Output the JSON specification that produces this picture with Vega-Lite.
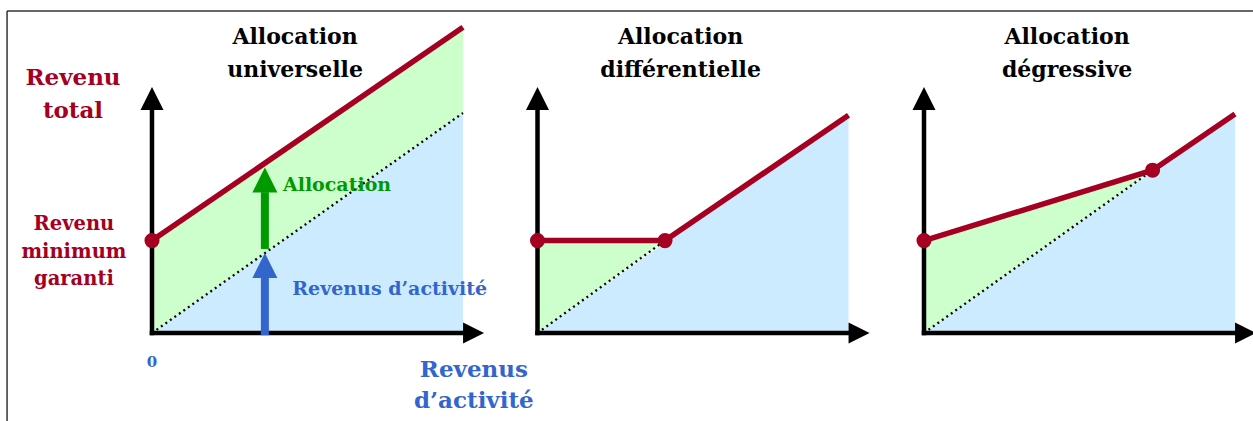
{
  "$schema": "https://vega.github.io/schema/vega-lite/v6.json",
  "width": 1253,
  "height": 421,
  "autosize": {"type": "none"},
  "padding": 0,
  "background": "white",
  "config": {"view": {"stroke": null}, "axis": {"disable": true}, "legend": {"disable": true}},
  "datasets": {
    "frame": [
      {"x": -4.66, "y": 14.64, "x2": 35.4, "y2": 14.64},
      {"x": -4.66, "y": 14.64, "x2": -4.66, "y2": -4}
    ],
    "axes": [
      {"x": 0, "y": 0, "x2": 0, "y2": 10.14},
      {"x": 0, "y": 0, "x2": 10.02, "y2": 0}
    ],
    "axis_up": [{"x": 0, "y": 10.66}],
    "axis_right": [{"x": 10.34, "y": 0}],
    "p1_blue": [{"x": 0, "top": 0, "bottom": 0}, {"x": 10, "top": 10, "bottom": 0}],
    "p1_green": [{"x": 0, "top": 4.2, "bottom": 0}, {"x": 10, "top": 13.9, "bottom": 10}],
    "p1_dots": [{"x": 0, "y": 0}, {"x": 10, "y": 10}],
    "p1_total": [{"x": 0, "y": 4.2}, {"x": 10, "y": 13.9}],
    "p1_points": [{"x": 0, "y": 4.2}],
    "p1_shafts": [
      {"kind": "allocation", "x": 3.63, "y": 3.82, "y2": 6.4},
      {"kind": "activite", "x": 3.63, "y": -0.1, "y2": 2.55}
    ],
    "p1_heads": [
      {"kind": "allocation", "x": 3.63, "y": 6.95},
      {"kind": "activite", "x": 3.63, "y": 3.07}
    ],
    "p1_text_big": [
      {"text": "Revenu", "x": -2.54, "y": 11.27, "kind": "total"},
      {"text": "total", "x": -2.54, "y": 9.79, "kind": "total"},
      {"text": "Revenus", "x": 10.35, "y": -2.0, "kind": "activite"},
      {"text": "d’activité", "x": 10.35, "y": -3.41, "kind": "activite"}
    ],
    "p1_text_mid": [
      {"text": "Revenu", "x": -2.51, "y": 4.68, "kind": "total"},
      {"text": "minimum", "x": -2.51, "y": 3.42, "kind": "total"},
      {"text": "garanti", "x": -2.51, "y": 2.18, "kind": "total"}
    ],
    "p1_text_left": [
      {"text": "Allocation", "x": 4.21, "y": 6.47, "kind": "allocation"},
      {"text": "Revenus d’activité", "x": 4.51, "y": 1.73, "kind": "activite"}
    ],
    "p1_zero": [{"text": "0", "x": 0, "y": -1.56, "kind": "activite"}],
    "p1_title": [
      {"text": "Allocation", "x": 4.6, "y": 13.14},
      {"text": "universelle", "x": 4.6, "y": 11.64}
    ],
    "p2_blue": [{"x": 0, "top": 0, "bottom": 0}, {"x": 10, "top": 10, "bottom": 0}],
    "p2_green": [{"x": 0, "top": 4.2, "bottom": 0}, {"x": 4.1, "top": 4.2, "bottom": 4.2}],
    "p2_dots": [{"x": 0, "y": 0}, {"x": 4.1, "y": 4.2}],
    "p2_total": [{"x": 0, "y": 4.2}, {"x": 4.1, "y": 4.2}, {"x": 10, "y": 9.9}],
    "p2_points": [{"x": 0, "y": 4.2}, {"x": 4.1, "y": 4.2}],
    "p2_title": [
      {"text": "Allocation", "x": 4.6, "y": 13.14},
      {"text": "différentielle", "x": 4.6, "y": 11.64}
    ],
    "p3_blue": [{"x": 0, "top": 0, "bottom": 0}, {"x": 10, "top": 10, "bottom": 0}],
    "p3_green": [{"x": 0, "top": 4.2, "bottom": 0}, {"x": 7.35, "top": 7.4, "bottom": 7.4}],
    "p3_dots": [{"x": 0, "y": 0}, {"x": 7.35, "y": 7.4}],
    "p3_total": [{"x": 0, "y": 4.2}, {"x": 7.35, "y": 7.4}, {"x": 10, "y": 9.95}],
    "p3_points": [{"x": 0, "y": 4.2}, {"x": 7.35, "y": 7.4}],
    "p3_title": [
      {"text": "Allocation", "x": 4.6, "y": 13.14},
      {"text": "dégressive", "x": 4.6, "y": 11.64}
    ]
  },
  "resolve": {"scale": {"x": "independent"}},
  "layer": [
    {
      "layer": [
        {"data": {"name": "frame"}, "mark": {"type": "rule", "color": "#333333", "strokeWidth": 1.5},
         "encoding": {"x": {"field": "x", "type": "quantitative", "scale": {"domain": [-4.887, 35.402], "nice": false, "zero": false}, "axis": null},
                      "x2": {"field": "x2"},
                      "y": {"field": "y", "type": "quantitative", "scale": {"domain": [-4, 15.136], "nice": false, "zero": false}, "axis": null},
                      "y2": {"field": "y2"}}},
        {"data": {"name": "p1_blue"}, "mark": {"type": "area", "color": "#CCEBFF", "opacity": 1},
         "encoding": {"x": {"field": "x", "type": "quantitative", "scale": {"domain": [-4.887, 35.402], "nice": false, "zero": false}},
                      "y": {"field": "top", "type": "quantitative", "stack": null}, "y2": {"field": "bottom"}}},
        {"data": {"name": "p1_green"}, "mark": {"type": "area", "color": "#CCFFCC", "opacity": 1},
         "encoding": {"x": {"field": "x", "type": "quantitative", "scale": {"domain": [-4.887, 35.402], "nice": false, "zero": false}},
                      "y": {"field": "top", "type": "quantitative", "stack": null}, "y2": {"field": "bottom"}}},
        {"data": {"name": "p1_dots"}, "mark": {"type": "line", "color": "black", "strokeWidth": 2.3, "strokeDash": [2, 3.5]},
         "encoding": {"x": {"field": "x", "type": "quantitative", "scale": {"domain": [-4.887, 35.402], "nice": false, "zero": false}},
                      "y": {"field": "y", "type": "quantitative"}}},
        {"data": {"name": "axes"}, "mark": {"type": "rule", "color": "black", "strokeWidth": 4.5, "strokeCap": "square"},
         "encoding": {"x": {"field": "x", "type": "quantitative", "scale": {"domain": [-4.887, 35.402], "nice": false, "zero": false}},
                      "x2": {"field": "x2"}, "y": {"field": "y", "type": "quantitative"}, "y2": {"field": "y2"}}},
        {"data": {"name": "axis_up"}, "mark": {"type": "point", "shape": "M0,-1L1,1L-1,1Z", "size": 529, "filled": true, "color": "black", "opacity": 1},
         "encoding": {"x": {"field": "x", "type": "quantitative", "scale": {"domain": [-4.887, 35.402], "nice": false, "zero": false}},
                      "y": {"field": "y", "type": "quantitative"}}},
        {"data": {"name": "axis_right"}, "mark": {"type": "point", "shape": "M1,0L-1,-1L-1,1Z", "size": 441, "filled": true, "color": "black", "opacity": 1},
         "encoding": {"x": {"field": "x", "type": "quantitative", "scale": {"domain": [-4.887, 35.402], "nice": false, "zero": false}},
                      "y": {"field": "y", "type": "quantitative"}}},
        {"data": {"name": "p1_total"}, "mark": {"type": "line", "color": "#A50021", "strokeWidth": 5.5},
         "encoding": {"x": {"field": "x", "type": "quantitative", "scale": {"domain": [-4.887, 35.402], "nice": false, "zero": false}},
                      "y": {"field": "y", "type": "quantitative"}}},
        {"data": {"name": "p1_points"}, "mark": {"type": "point", "shape": "circle", "size": 227, "filled": true, "color": "#A50021", "opacity": 1},
         "encoding": {"x": {"field": "x", "type": "quantitative", "scale": {"domain": [-4.887, 35.402], "nice": false, "zero": false}},
                      "y": {"field": "y", "type": "quantitative"}}},
        {"data": {"name": "p1_shafts"}, "mark": {"type": "rule", "strokeWidth": 8},
         "encoding": {"x": {"field": "x", "type": "quantitative", "scale": {"domain": [-4.887, 35.402], "nice": false, "zero": false}},
                      "y": {"field": "y", "type": "quantitative"}, "y2": {"field": "y2"},
                      "color": {"field": "kind", "type": "nominal", "scale": {"domain": ["allocation", "activite", "total", "titre"], "range": ["#009900", "#3366CC", "#A50021", "#000000"]}, "legend": null}}},
        {"data": {"name": "p1_heads"}, "mark": {"type": "point", "shape": "M0,-1L1,1L-1,1Z", "size": 625, "filled": true, "opacity": 1},
         "encoding": {"x": {"field": "x", "type": "quantitative", "scale": {"domain": [-4.887, 35.402], "nice": false, "zero": false}},
                      "y": {"field": "y", "type": "quantitative"},
                      "color": {"field": "kind", "type": "nominal", "legend": null}}},
        {"data": {"name": "p1_text_big"}, "mark": {"type": "text", "font": "DejaVu Serif", "fontWeight": "bold", "fontSize": 23, "align": "center", "baseline": "alphabetic"},
         "encoding": {"x": {"field": "x", "type": "quantitative", "scale": {"domain": [-4.887, 35.402], "nice": false, "zero": false}},
                      "y": {"field": "y", "type": "quantitative"}, "text": {"field": "text"},
                      "color": {"field": "kind", "type": "nominal", "legend": null}}},
        {"data": {"name": "p1_text_mid"}, "mark": {"type": "text", "font": "DejaVu Serif", "fontWeight": "bold", "fontSize": 19.5, "align": "center", "baseline": "alphabetic"},
         "encoding": {"x": {"field": "x", "type": "quantitative", "scale": {"domain": [-4.887, 35.402], "nice": false, "zero": false}},
                      "y": {"field": "y", "type": "quantitative"}, "text": {"field": "text"},
                      "color": {"field": "kind", "type": "nominal", "legend": null}}},
        {"data": {"name": "p1_text_left"}, "mark": {"type": "text", "font": "DejaVu Serif", "fontWeight": "bold", "fontSize": 19, "align": "left", "baseline": "alphabetic"},
         "encoding": {"x": {"field": "x", "type": "quantitative", "scale": {"domain": [-4.887, 35.402], "nice": false, "zero": false}},
                      "y": {"field": "y", "type": "quantitative"}, "text": {"field": "text"},
                      "color": {"field": "kind", "type": "nominal", "legend": null}}},
        {"data": {"name": "p1_zero"}, "mark": {"type": "text", "font": "DejaVu Serif", "fontWeight": "bold", "fontSize": 15, "align": "center", "baseline": "alphabetic"},
         "encoding": {"x": {"field": "x", "type": "quantitative", "scale": {"domain": [-4.887, 35.402], "nice": false, "zero": false}},
                      "y": {"field": "y", "type": "quantitative"}, "text": {"field": "text"},
                      "color": {"field": "kind", "type": "nominal", "legend": null}}},
        {"data": {"name": "p1_title"}, "mark": {"type": "text", "font": "DejaVu Serif", "fontWeight": "bold", "fontSize": 22, "align": "center", "baseline": "alphabetic", "color": "black"},
         "encoding": {"x": {"field": "x", "type": "quantitative", "scale": {"domain": [-4.887, 35.402], "nice": false, "zero": false}},
                      "y": {"field": "y", "type": "quantitative"}, "text": {"field": "text"}}}
      ]
    },
    {
      "layer": [
        {"data": {"name": "p2_blue"}, "mark": {"type": "area", "color": "#CCEBFF", "opacity": 1},
         "encoding": {"x": {"field": "x", "type": "quantitative", "scale": {"domain": [-17.283, 23.006], "nice": false, "zero": false}},
                      "y": {"field": "top", "type": "quantitative", "stack": null}, "y2": {"field": "bottom"}}},
        {"data": {"name": "p2_green"}, "mark": {"type": "area", "color": "#CCFFCC", "opacity": 1},
         "encoding": {"x": {"field": "x", "type": "quantitative", "scale": {"domain": [-17.283, 23.006], "nice": false, "zero": false}},
                      "y": {"field": "top", "type": "quantitative", "stack": null}, "y2": {"field": "bottom"}}},
        {"data": {"name": "p2_dots"}, "mark": {"type": "line", "color": "black", "strokeWidth": 2.3, "strokeDash": [2, 3.5]},
         "encoding": {"x": {"field": "x", "type": "quantitative", "scale": {"domain": [-17.283, 23.006], "nice": false, "zero": false}},
                      "y": {"field": "y", "type": "quantitative"}}},
        {"data": {"name": "axes"}, "mark": {"type": "rule", "color": "black", "strokeWidth": 4.5, "strokeCap": "square"},
         "encoding": {"x": {"field": "x", "type": "quantitative", "scale": {"domain": [-17.283, 23.006], "nice": false, "zero": false}},
                      "x2": {"field": "x2"}, "y": {"field": "y", "type": "quantitative"}, "y2": {"field": "y2"}}},
        {"data": {"name": "axis_up"}, "mark": {"type": "point", "shape": "M0,-1L1,1L-1,1Z", "size": 529, "filled": true, "color": "black", "opacity": 1},
         "encoding": {"x": {"field": "x", "type": "quantitative", "scale": {"domain": [-17.283, 23.006], "nice": false, "zero": false}},
                      "y": {"field": "y", "type": "quantitative"}}},
        {"data": {"name": "axis_right"}, "mark": {"type": "point", "shape": "M1,0L-1,-1L-1,1Z", "size": 441, "filled": true, "color": "black", "opacity": 1},
         "encoding": {"x": {"field": "x", "type": "quantitative", "scale": {"domain": [-17.283, 23.006], "nice": false, "zero": false}},
                      "y": {"field": "y", "type": "quantitative"}}},
        {"data": {"name": "p2_total"}, "mark": {"type": "line", "color": "#A50021", "strokeWidth": 5.5},
         "encoding": {"x": {"field": "x", "type": "quantitative", "scale": {"domain": [-17.283, 23.006], "nice": false, "zero": false}},
                      "y": {"field": "y", "type": "quantitative"}}},
        {"data": {"name": "p2_points"}, "mark": {"type": "point", "shape": "circle", "size": 227, "filled": true, "color": "#A50021", "opacity": 1},
         "encoding": {"x": {"field": "x", "type": "quantitative", "scale": {"domain": [-17.283, 23.006], "nice": false, "zero": false}},
                      "y": {"field": "y", "type": "quantitative"}}},
        {"data": {"name": "p2_title"}, "mark": {"type": "text", "font": "DejaVu Serif", "fontWeight": "bold", "fontSize": 22, "align": "center", "baseline": "alphabetic", "color": "black"},
         "encoding": {"x": {"field": "x", "type": "quantitative", "scale": {"domain": [-17.283, 23.006], "nice": false, "zero": false}},
                      "y": {"field": "y", "type": "quantitative"}, "text": {"field": "text"}}}
      ]
    },
    {
      "layer": [
        {"data": {"name": "p3_blue"}, "mark": {"type": "area", "color": "#CCEBFF", "opacity": 1},
         "encoding": {"x": {"field": "x", "type": "quantitative", "scale": {"domain": [-29.711, 10.579], "nice": false, "zero": false}},
                      "y": {"field": "top", "type": "quantitative", "stack": null}, "y2": {"field": "bottom"}}},
        {"data": {"name": "p3_green"}, "mark": {"type": "area", "color": "#CCFFCC", "opacity": 1},
         "encoding": {"x": {"field": "x", "type": "quantitative", "scale": {"domain": [-29.711, 10.579], "nice": false, "zero": false}},
                      "y": {"field": "top", "type": "quantitative", "stack": null}, "y2": {"field": "bottom"}}},
        {"data": {"name": "p3_dots"}, "mark": {"type": "line", "color": "black", "strokeWidth": 2.3, "strokeDash": [2, 3.5]},
         "encoding": {"x": {"field": "x", "type": "quantitative", "scale": {"domain": [-29.711, 10.579], "nice": false, "zero": false}},
                      "y": {"field": "y", "type": "quantitative"}}},
        {"data": {"name": "axes"}, "mark": {"type": "rule", "color": "black", "strokeWidth": 4.5, "strokeCap": "square"},
         "encoding": {"x": {"field": "x", "type": "quantitative", "scale": {"domain": [-29.711, 10.579], "nice": false, "zero": false}},
                      "x2": {"field": "x2"}, "y": {"field": "y", "type": "quantitative"}, "y2": {"field": "y2"}}},
        {"data": {"name": "axis_up"}, "mark": {"type": "point", "shape": "M0,-1L1,1L-1,1Z", "size": 529, "filled": true, "color": "black", "opacity": 1},
         "encoding": {"x": {"field": "x", "type": "quantitative", "scale": {"domain": [-29.711, 10.579], "nice": false, "zero": false}},
                      "y": {"field": "y", "type": "quantitative"}}},
        {"data": {"name": "axis_right"}, "mark": {"type": "point", "shape": "M1,0L-1,-1L-1,1Z", "size": 441, "filled": true, "color": "black", "opacity": 1},
         "encoding": {"x": {"field": "x", "type": "quantitative", "scale": {"domain": [-29.711, 10.579], "nice": false, "zero": false}},
                      "y": {"field": "y", "type": "quantitative"}}},
        {"data": {"name": "p3_total"}, "mark": {"type": "line", "color": "#A50021", "strokeWidth": 5.5},
         "encoding": {"x": {"field": "x", "type": "quantitative", "scale": {"domain": [-29.711, 10.579], "nice": false, "zero": false}},
                      "y": {"field": "y", "type": "quantitative"}}},
        {"data": {"name": "p3_points"}, "mark": {"type": "point", "shape": "circle", "size": 227, "filled": true, "color": "#A50021", "opacity": 1},
         "encoding": {"x": {"field": "x", "type": "quantitative", "scale": {"domain": [-29.711, 10.579], "nice": false, "zero": false}},
                      "y": {"field": "y", "type": "quantitative"}}},
        {"data": {"name": "p3_title"}, "mark": {"type": "text", "font": "DejaVu Serif", "fontWeight": "bold", "fontSize": 22, "align": "center", "baseline": "alphabetic", "color": "black"},
         "encoding": {"x": {"field": "x", "type": "quantitative", "scale": {"domain": [-29.711, 10.579], "nice": false, "zero": false}},
                      "y": {"field": "y", "type": "quantitative"}, "text": {"field": "text"}}}
      ]
    }
  ]
}
